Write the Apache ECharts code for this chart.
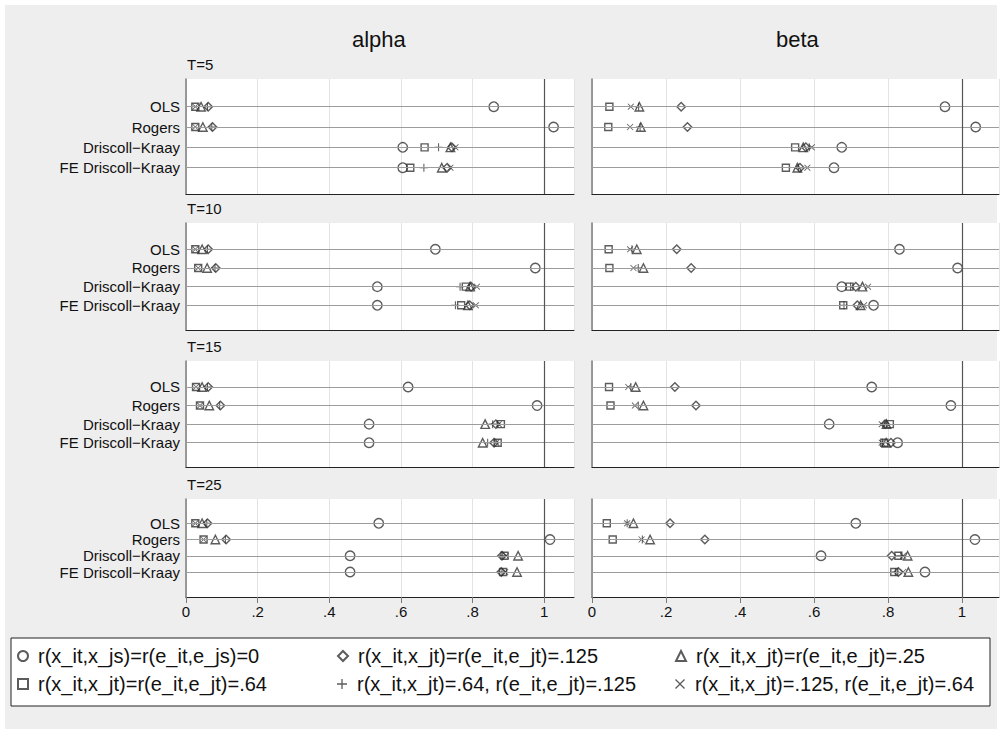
<!DOCTYPE html>
<html>
<head>
<meta charset="utf-8">
<script src="https://cdn.jsdelivr.net/npm/echarts@6/dist/echarts.min.js"></script>
<style>
  html, body { margin: 0; padding: 0; background: #fff; }
  #chart { width: 1002px; height: 734px; }
</style>
</head>
<body>
<div id="chart"></div>
<script>
// Row (estimator) names, panel labels, column titles, tick labels
const rowNames = ['OLS', 'Rogers', 'Driscoll\u2212Kraay', 'FE Driscoll\u2212Kraay'];
const panelLabels = ['T=5', 'T=10', 'T=15', 'T=25'];
const columnTitles = ['alpha', 'beta'];
const tickLabels = ['0', '.2', '.4', '.6', '.8', '1'];

// Correlation settings, in legend order
const legendNames = [
  'r(x_it,x_js)=r(e_it,e_js)=0',
  'r(x_it,x_jt)=r(e_it,e_jt)=.125',
  'r(x_it,x_jt)=r(e_it,e_jt)=.25',
  'r(x_it,x_jt)=r(e_it,e_jt)=.64',
  'r(x_it,x_jt)=.64, r(e_it,e_jt)=.125',
  'r(x_it,x_jt)=.125, r(e_it,e_jt)=.64'
];

// Each panel: one row per estimator, values in legend order
// [r=0, .125, .25, .64, (.64,.125), (.125,.64)]
const alpha_T5 = [
  [0.859, 0.062, 0.042, 0.026, 0.060, 0.026],
  [1.026, 0.074, 0.047, 0.026, 0.072, 0.026],
  [0.605, 0.742, 0.738, 0.666, 0.705, 0.752],
  [0.605, 0.729, 0.714, 0.626, 0.664, 0.738]
];
const alpha_T10 = [
  [0.696, 0.062, 0.045, 0.026, 0.060, 0.026],
  [0.975, 0.083, 0.059, 0.034, 0.081, 0.034],
  [0.534, 0.796, 0.793, 0.781, 0.765, 0.812],
  [0.534, 0.792, 0.787, 0.768, 0.752, 0.809]
];
const alpha_T15 = [
  [0.620, 0.062, 0.045, 0.028, 0.060, 0.028],
  [0.980, 0.096, 0.065, 0.039, 0.094, 0.039],
  [0.511, 0.865, 0.835, 0.879, 0.856, 0.873],
  [0.511, 0.860, 0.828, 0.870, 0.842, 0.866]
];
const alpha_T25 = [
  [0.538, 0.060, 0.045, 0.026, 0.058, 0.026],
  [1.016, 0.112, 0.082, 0.049, 0.110, 0.049],
  [0.458, 0.882, 0.927, 0.889, 0.884, 0.893],
  [0.458, 0.880, 0.924, 0.885, 0.882, 0.891]
];
const beta_T5 = [
  [0.954, 0.241, 0.128, 0.047, 0.126, 0.105],
  [1.037, 0.258, 0.132, 0.044, 0.130, 0.103],
  [0.675, 0.578, 0.571, 0.549, 0.587, 0.594],
  [0.654, 0.562, 0.555, 0.524, 0.558, 0.582]
];
const beta_T10 = [
  [0.831, 0.229, 0.121, 0.045, 0.108, 0.103],
  [0.988, 0.268, 0.139, 0.047, 0.125, 0.112],
  [0.675, 0.713, 0.731, 0.696, 0.699, 0.746],
  [0.761, 0.717, 0.726, 0.679, 0.681, 0.735]
];
const beta_T15 = [
  [0.756, 0.224, 0.118, 0.046, 0.105, 0.098],
  [0.970, 0.281, 0.139, 0.050, 0.125, 0.116],
  [0.641, 0.792, 0.796, 0.805, 0.790, 0.783],
  [0.826, 0.808, 0.795, 0.790, 0.785, 0.783]
];
const beta_T25 = [
  [0.713, 0.211, 0.112, 0.040, 0.095, 0.095],
  [1.035, 0.305, 0.157, 0.056, 0.136, 0.134],
  [0.619, 0.810, 0.853, 0.828, 0.835, 0.841],
  [0.900, 0.828, 0.855, 0.817, 0.820, 0.841]
];

const columns = [
  [alpha_T5, alpha_T10, alpha_T15, alpha_T25],
  [beta_T5, beta_T10, beta_T15, beta_T25]
];

// ---- layout ----
const FONT = '"Liberation Sans", Arial, Helvetica, sans-serif';
const INK = '#333333';
const colLeft = [186, 592];
const colWidth = [388, 407];
const colMax = [1.083, 1.1];
const panelTop = [79, 223, 361, 499];
const panelBottom = [194, 330, 467, 597];
const yMin = [-1.362, -1.409, -1.400, -1.497];
const yMax = [4.294, 4.323, 4.309, 4.540];

const plusPath = 'path://M4.35,0H5.65V4.35H10V5.65H5.65V10H4.35V5.65H0V4.35H4.35Z';
const crossPath = 'path://M0.9,0L5,4.1L9.1,0L10,0.9L5.9,5L10,9.1L9.1,10L5,5.9L0.9,10L0,9.1L4.1,5L0,0.9Z';
const markerStyles = [
  { symbol: 'circle', size: 9.5, hollow: true },
  { symbol: 'diamond', size: 8.5, hollow: true },
  { symbol: 'triangle', size: 8.5, hollow: true },
  { symbol: 'rect', size: 7, hollow: true },
  { symbol: plusPath, size: 8, hollow: false },
  { symbol: crossPath, size: 6.5, hollow: false }
];

function itemStyleFor(m) {
  return m.hollow
    ? { color: 'rgba(255,255,255,0)', borderColor: INK, borderWidth: 1.4 }
    : { color: INK, borderWidth: 0 };
}

const grids = [], xAxes = [], yAxes = [], series = [];
let g = 0;
for (let c = 0; c < 2; c++) {
  for (let r = 0; r < 4; r++) {
    const last = r === 3;
    grids.push({
      left: colLeft[c], width: colWidth[c],
      top: panelTop[r], height: panelBottom[r] - panelTop[r],
      show: true, backgroundColor: '#ffffff', borderWidth: 0
    });
    xAxes.push({
      type: 'value', gridIndex: g, min: 0, max: colMax[c], interval: 0.2,
      axisLine: { show: true, onZero: false, lineStyle: { color: '#222', width: 1 } },
      axisTick: { show: last, length: 6, lineStyle: { color: '#7a7a7a', width: 1 } },
      axisLabel: {
        show: last, margin: 7, color: '#111', fontSize: 15, fontFamily: FONT,
        showMaxLabel: false,
        formatter: v => tickLabels[Math.round(v / 0.2)] || ''
      },
      splitLine: { show: true, lineStyle: { color: '#e3e3e3', width: 1 } }
    });
    yAxes.push({
      type: 'value', gridIndex: g, inverse: true, min: yMin[r], max: yMax[r],
      axisLine: { show: true, onZero: false, lineStyle: { color: '#7d7d7d', width: 1.5 } },
      axisTick: { show: false }, axisLabel: { show: false }, splitLine: { show: false }
    });

    // row lines with estimator names, and the reference line at 1
    const lines = rowNames.map((name, i) => ({
      yAxis: i, name: name,
      label: {
        show: c === 0, position: 'start', distance: 6, formatter: '{b}',
        color: '#111', fontSize: 15, fontFamily: FONT
      }
    }));
    lines.push({ xAxis: 1, name: '', lineStyle: { color: '#555', width: 1.2 }, label: { show: false } });
    series.push({
      type: 'scatter', xAxisIndex: g, yAxisIndex: g, data: [], z: 1, silent: true,
      markLine: {
        silent: true, symbol: ['none', 'none'], animation: false,
        lineStyle: { color: '#9c9c9c', width: 1.2, type: 'solid' },
        emphasis: { disabled: true },
        data: lines
      }
    });

    const panel = columns[c][r];
    markerStyles.forEach((m, k) => {
      series.push({
        type: 'scatter', name: legendNames[k], xAxisIndex: g, yAxisIndex: g,
        symbol: m.symbol, symbolSize: m.size, z: 3, animation: false,
        itemStyle: itemStyleFor(m),
        emphasis: { disabled: true },
        data: panel.map((row, i) => [row[k], i])
      });
    });
    g++;
  }
}

// legend: three columns, two rows
const legendCols = [17, 337, 675];
const legendRows = [656, 684];
const legends = legendNames.map((name, k) => ({
  data: [name], orient: 'horizontal', padding: 0,
  left: legendCols[k % 3], top: legendRows[Math.floor(k / 3)] - 10,
  itemWidth: 10, itemHeight: 10, itemGap: 0,
  textStyle: { color: '#111', fontSize: 20, fontFamily: FONT, padding: [0, 0, 0, 5] },
  selectedMode: false
}));

const option = {
  backgroundColor: '#eeeeee',
  animation: false,
  grid: grids, xAxis: xAxes, yAxis: yAxes, series: series,
  legend: legends,
  graphic: [
    { type: 'rect', shape: { x: 0, y: 0, width: 1002, height: 734 }, silent: true, z: -100,
      style: { fill: 'none', stroke: '#ffffff', lineWidth: 10 } },
    { type: 'rect', shape: { x: 11, y: 638, width: 979, height: 68 }, silent: true, z: -50,
      style: { fill: '#ffffff', stroke: '#222', lineWidth: 1 } },
    { type: 'text', left: 378 - 26, top: 28, silent: true,
      style: { text: columnTitles[0], fill: '#111', font: '22px ' + FONT } },
    { type: 'text', left: 797 - 21, top: 28, silent: true,
      style: { text: columnTitles[1], fill: '#111', font: '22px ' + FONT } },
    ...panelLabels.map((t, r) => ({
      type: 'text', left: 187, top: panelTop[r] - 22, silent: true,
      style: { text: t, fill: '#111', font: '15px ' + FONT }
    }))
  ]
};

const chart = echarts.init(document.getElementById('chart'), null, { renderer: 'svg', width: 1002, height: 734 });
chart.setOption(option);
</script>
</body>
</html>
